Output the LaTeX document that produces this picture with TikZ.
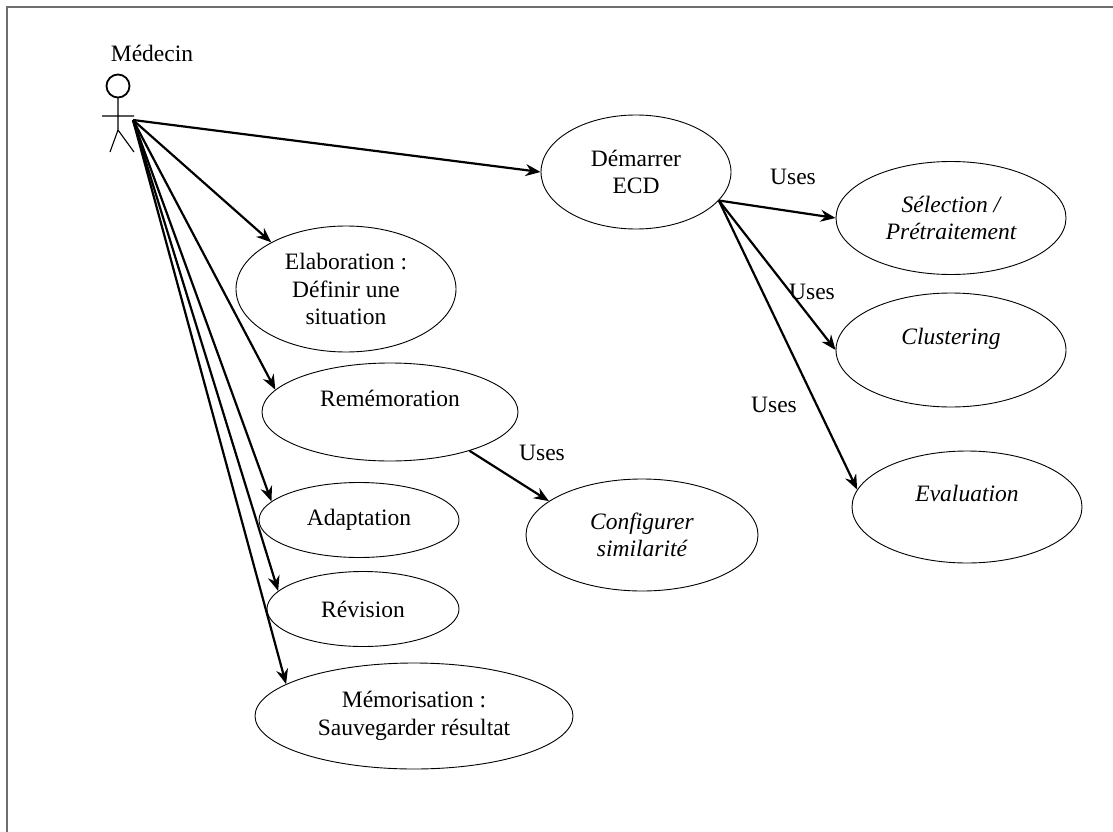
\documentclass[tikz,border=0pt]{standalone}
\usepackage{fontspec}
\setmainfont{Liberation Serif}
\usepackage{tikz}
\usetikzlibrary{arrows.meta,positioning,shapes}
\definecolor{frm}{RGB}{110,110,110}

\begin{document}
\begin{tikzpicture}[x=1pt,y=-1pt,inner sep=0pt,font=\fontsize{23.5}{27.5}\selectfont]
  \tikzstyle{uc}=[ellipse,draw,line width=0.9pt,align=center]
  \tikzstyle{inc}=[uc,font=\fontsize{23.5}{27.5}\selectfont\itshape]
  \useasboundingbox(0,0)rectangle(1113,832);
  \draw[frm,line width=1.6pt](7,832)--(7,7)--(1113,7);
  % acteur
  \node(med)at(152,53){Médecin};
  \draw[line width=1.8pt](118,86)circle[radius=11.5];
  \draw[line width=1.1pt](118,98)--(118,130)(102,116)--(134,116)(110,152)--(118,130)--(134,152);
  \coordinate(act)at(133,120);
  % cas d'utilisation
  \node[uc,minimum width=190,minimum height=114](ecd)at(636,172){Démarrer\\ECD};
  \node[inc,minimum width=230,minimum height=113](sel)at(951,218){Sélection /\\Prétraitement};
  \node[inc,minimum width=230,minimum height=114](clu)at(951,350){Clustering\\~};
  \node[inc,minimum width=230,minimum height=112](eva)at(967,507){Evaluation\\~};
  \node[uc,minimum width=220,minimum height=126](ela)at(346,289){Elaboration :\\Définir une\\situation};
  \node[uc,minimum width=256,minimum height=98](rem)at(390,412){Remémoration\\~};
  \node[inc,minimum width=232,minimum height=112](cfg)at(642,535){Configurer\\similarité};
  \node[uc,minimum width=200,minimum height=75](ada)at(359,520){Adaptation};
  \node[uc,minimum width=192,minimum height=75](rev)at(363,609){Révision};
  \node[uc,minimum width=318,minimum height=106](mem)at(414,716){Mémorisation :\\Sauvegarder résultat};
  \foreach\n/\x/\y in{usel/793/177,uclu/812/292,ueva/774/405,ucfg/542/453}{\node(\n)at(\x,\y){Uses};}
  % liens
  \tikzstyle{e}=[-{Stealth[length=15pt,width=12pt,inset=5pt]},line width=2.2pt]
  \foreach\d in{ecd.west,ela.148,rem.169,ada.168,rev.168,mem.166}{\draw[e](act)--(\d);}
  \draw[e](rem.-26)--(cfg.160);
  \foreach\d in{sel.west,clu.west,eva.171}{\draw[e](ecd.-19)--(\d);}
\end{tikzpicture}
\end{document}
